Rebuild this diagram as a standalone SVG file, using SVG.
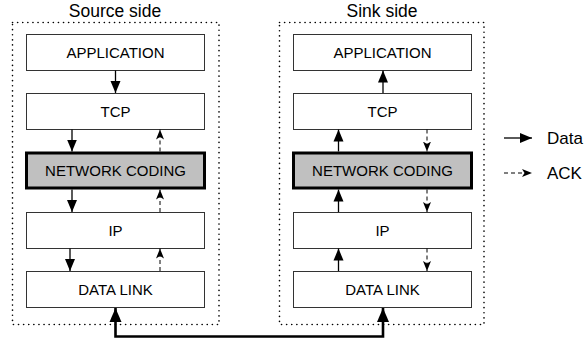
<svg xmlns="http://www.w3.org/2000/svg" width="585" height="339" viewBox="0 0 585 339">
<style>
.frame{fill:none;stroke:#000;stroke-width:1.6;stroke-dasharray:0.1 5;stroke-linecap:round}
.box{fill:#fff;stroke:#333;stroke-width:1}
.nc{fill:#c0c0c0;stroke:#000;stroke-width:3}
.lbl{font-family:"Liberation Sans",Arial,sans-serif;font-size:15px;fill:#000;text-anchor:middle}
.title{font-family:"Liberation Sans",Arial,sans-serif;font-size:17.5px;fill:#000;text-anchor:middle}
.leg{font-family:"Liberation Sans",Arial,sans-serif;font-size:17px;fill:#000}
.data{stroke:#000;stroke-width:1.3;fill:none}
.ack{stroke:#000;stroke-width:1;stroke-dasharray:4 3;fill:none}
.link{stroke:#000;stroke-width:2.6;fill:none}
</style>
<defs>
<marker id="ah" markerUnits="userSpaceOnUse" markerWidth="12" markerHeight="12" viewBox="0 0 12 12" refX="12" refY="6" orient="auto-start-reverse">
<path d="M0,1 L12,6 L0,11 Z" fill="#000"/>
</marker>
<marker id="al" markerUnits="userSpaceOnUse" markerWidth="14" markerHeight="14" viewBox="0 0 14 14" refX="14" refY="7" orient="auto-start-reverse">
<path d="M0,1 L14,7 L0,13 Z" fill="#000"/>
</marker>
<marker id="aa" markerUnits="userSpaceOnUse" markerWidth="10" markerHeight="10" viewBox="0 0 10 10" refX="10" refY="5" orient="auto-start-reverse">
<path d="M0,1 L10,5 L0,9 L2.5,5 Z" fill="#000"/>
</marker>
</defs>
<g id="source-frame">
<rect class="frame" x="12.5" y="22.5" width="206.5" height="302"/>
<text class="title" x="115" y="17">Source side</text>
</g>
<g id="sink-frame">
<rect class="frame" x="279.5" y="22.5" width="204.5" height="302"/>
<text class="title" x="382" y="17">Sink side</text>
</g>
<g id="src-app"><rect class="box" x="26.5" y="34.5" width="178" height="36"/><text class="lbl" x="115.5" y="58">APPLICATION</text></g>
<g id="src-tcp"><rect class="box" x="26.5" y="93.5" width="178" height="36"/><text class="lbl" x="115.5" y="117">TCP</text></g>
<g id="src-nc"><rect class="nc" x="26.5" y="153" width="178" height="35"/><text class="lbl" x="115.5" y="176">NETWORK CODING</text></g>
<g id="src-ip"><rect class="box" x="26.5" y="212.5" width="178" height="36"/><text class="lbl" x="115.5" y="236">IP</text></g>
<g id="src-dl"><rect class="box" x="26.5" y="271.5" width="178" height="36"/><text class="lbl" x="115.5" y="295">DATA LINK</text></g>
<g id="snk-app"><rect class="box" x="293.5" y="34.5" width="178" height="36"/><text class="lbl" x="382.5" y="58">APPLICATION</text></g>
<g id="snk-tcp"><rect class="box" x="293.5" y="93.5" width="178" height="36"/><text class="lbl" x="382.5" y="117">TCP</text></g>
<g id="snk-nc"><rect class="nc" x="293.5" y="153" width="178" height="35"/><text class="lbl" x="382.5" y="176">NETWORK CODING</text></g>
<g id="snk-ip"><rect class="box" x="293.5" y="212.5" width="178" height="36"/><text class="lbl" x="382.5" y="236">IP</text></g>
<g id="snk-dl"><rect class="box" x="293.5" y="271.5" width="178" height="36"/><text class="lbl" x="382.5" y="295">DATA LINK</text></g>
<g id="connectors">
<line class="data" x1="115.5" y1="70.5" x2="115.5" y2="93" marker-end="url(#ah)"/>
<line class="data" x1="72" y1="129.5" x2="72" y2="151.5" marker-end="url(#ah)"/>
<line class="ack" x1="160" y1="151.5" x2="160" y2="129.5" marker-end="url(#aa)"/>
<line class="data" x1="72" y1="189.5" x2="72" y2="212" marker-end="url(#ah)"/>
<line class="ack" x1="160" y1="212" x2="160" y2="189.5" marker-end="url(#aa)"/>
<line class="data" x1="70" y1="248.5" x2="70" y2="271" marker-end="url(#ah)"/>
<line class="ack" x1="160" y1="271" x2="160" y2="248.5" marker-end="url(#aa)"/>
<line class="data" x1="383" y1="93" x2="383" y2="70.5" marker-end="url(#ah)"/>
<line class="data" x1="338.5" y1="151.5" x2="338.5" y2="129.5" marker-end="url(#ah)"/>
<line class="ack" x1="427" y1="129.5" x2="427" y2="151.5" marker-end="url(#aa)"/>
<line class="data" x1="338.5" y1="212" x2="338.5" y2="189.5" marker-end="url(#ah)"/>
<line class="ack" x1="427" y1="189.5" x2="427" y2="212" marker-end="url(#aa)"/>
<line class="data" x1="338.5" y1="271" x2="338.5" y2="248.5" marker-end="url(#ah)"/>
<line class="ack" x1="427" y1="248.5" x2="427" y2="271" marker-end="url(#aa)"/>
<path class="link" d="M115.5,308 V336.5 H383 V308" marker-start="url(#al)" marker-end="url(#al)"/>
</g>
<g id="legend">
<line class="data" x1="504" y1="138" x2="532" y2="138" marker-end="url(#ah)"/>
<text class="leg" x="547" y="144">Data</text>
<line class="ack" x1="504" y1="173" x2="532" y2="173" marker-end="url(#aa)"/>
<text class="leg" x="547" y="179">ACK</text>
</g>
</svg>
